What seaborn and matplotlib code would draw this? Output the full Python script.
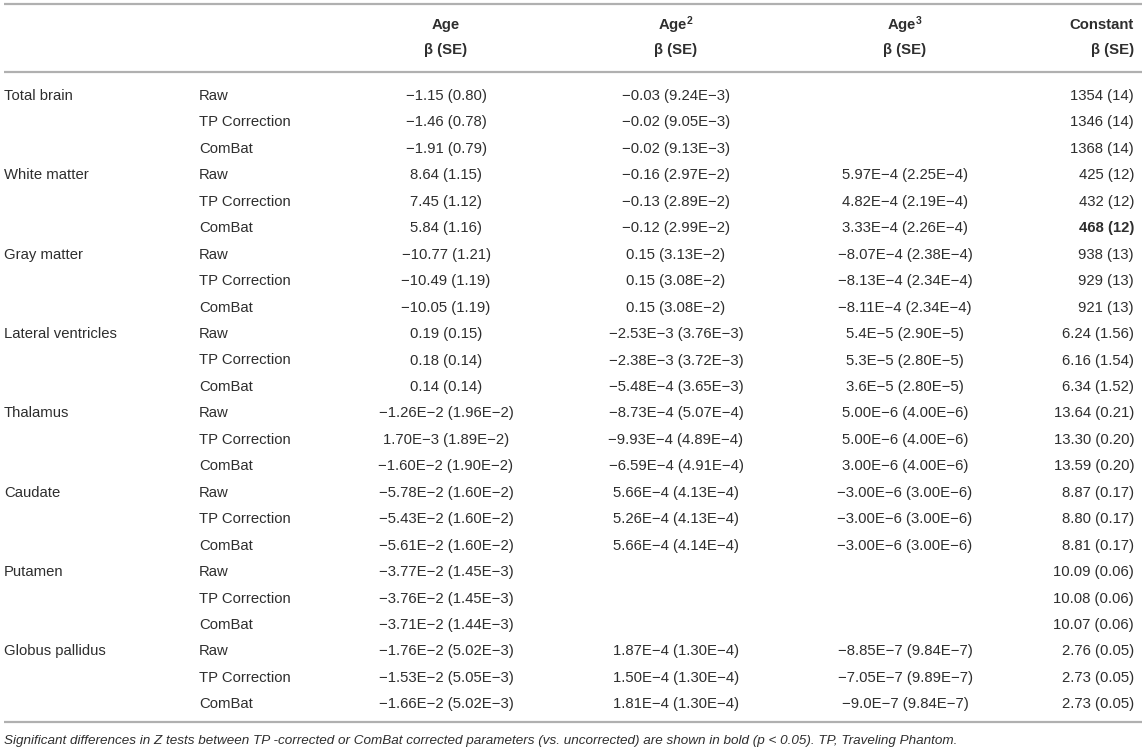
import matplotlib
matplotlib.use("Agg")
import matplotlib.pyplot as plt
import seaborn as sns

sns.set_theme(style="white")
plt.rcParams['font.family'] = ['Liberation Sans', 'DejaVu Sans']
plt.rcParams['mathtext.fontset'] = 'custom'
plt.rcParams['mathtext.rm'] = 'Liberation Sans'
plt.rcParams['mathtext.bf'] = 'Liberation Sans:bold'
plt.rcParams['mathtext.default'] = 'bf'

# ---------------- data ----------------
regions = ["Total brain", "White matter", "Gray matter", "Lateral ventricles",
           "Thalamus", "Caudate", "Putamen", "Globus pallidus"]
methods = ["Raw", "TP Correction", "ComBat"]

col_headers = ["Age", "Age$^{2}$", "Age$^{3}$", "Constant"]
sub_header = "β (SE)"

age = ["−1.15 (0.80)", "−1.46 (0.78)", "−1.91 (0.79)",
       "8.64 (1.15)", "7.45 (1.12)", "5.84 (1.16)",
       "−10.77 (1.21)", "−10.49 (1.19)", "−10.05 (1.19)",
       "0.19 (0.15)", "0.18 (0.14)", "0.14 (0.14)",
       "−1.26E−2 (1.96E−2)", "1.70E−3 (1.89E−2)", "−1.60E−2 (1.90E−2)",
       "−5.78E−2 (1.60E−2)", "−5.43E−2 (1.60E−2)", "−5.61E−2 (1.60E−2)",
       "−3.77E−2 (1.45E−3)", "−3.76E−2 (1.45E−3)", "−3.71E−2 (1.44E−3)",
       "−1.76E−2 (5.02E−3)", "−1.53E−2 (5.05E−3)", "−1.66E−2 (5.02E−3)"]
age2 = ["−0.03 (9.24E−3)", "−0.02 (9.05E−3)", "−0.02 (9.13E−3)",
        "−0.16 (2.97E−2)", "−0.13 (2.89E−2)", "−0.12 (2.99E−2)",
        "0.15 (3.13E−2)", "0.15 (3.08E−2)", "0.15 (3.08E−2)",
        "−2.53E−3 (3.76E−3)", "−2.38E−3 (3.72E−3)", "−5.48E−4 (3.65E−3)",
        "−8.73E−4 (5.07E−4)", "−9.93E−4 (4.89E−4)", "−6.59E−4 (4.91E−4)",
        "5.66E−4 (4.13E−4)", "5.26E−4 (4.13E−4)", "5.66E−4 (4.14E−4)",
        "", "", "",
        "1.87E−4 (1.30E−4)", "1.50E−4 (1.30E−4)", "1.81E−4 (1.30E−4)"]
age3 = ["", "", "",
        "5.97E−4 (2.25E−4)", "4.82E−4 (2.19E−4)", "3.33E−4 (2.26E−4)",
        "−8.07E−4 (2.38E−4)", "−8.13E−4 (2.34E−4)", "−8.11E−4 (2.34E−4)",
        "5.4E−5 (2.90E−5)", "5.3E−5 (2.80E−5)", "3.6E−5 (2.80E−5)",
        "5.00E−6 (4.00E−6)", "5.00E−6 (4.00E−6)", "3.00E−6 (4.00E−6)",
        "−3.00E−6 (3.00E−6)", "−3.00E−6 (3.00E−6)", "−3.00E−6 (3.00E−6)",
        "", "", "",
        "−8.85E−7 (9.84E−7)", "−7.05E−7 (9.89E−7)", "−9.0E−7 (9.84E−7)"]
constant = ["1354 (14)", "1346 (14)", "1368 (14)",
            "425 (12)", "432 (12)", "468 (12)",
            "938 (13)", "929 (13)", "921 (13)",
            "6.24 (1.56)", "6.16 (1.54)", "6.34 (1.52)",
            "13.64 (0.21)", "13.30 (0.20)", "13.59 (0.20)",
            "8.87 (0.17)", "8.80 (0.17)", "8.81 (0.17)",
            "10.09 (0.06)", "10.08 (0.06)", "10.07 (0.06)",
            "2.76 (0.05)", "2.73 (0.05)", "2.73 (0.05)"]
bold_cells = {("constant", 5)}

footnote = ("Significant differences in Z tests between TP -corrected or ComBat corrected "
            "parameters (vs. uncorrected) are shown in bold (p < 0.05). TP, Traveling Phantom.")

# ---------------- layout ----------------
W, H = 1146, 752
fig = plt.figure(figsize=(W / 100, H / 100), dpi=100)
ax = fig.add_axes([0, 0, 1, 1])
ax.set_xlim(0, W)
ax.set_ylim(H, 0)
ax.axis("off")

txt = "#2e2e2e"
rule = "#b0b0b0"
fs = 10.7

x_region, x_method = 4, 199
col_x = [446, 676, 905, 1134]
col_ha = ["center", "center", "center", "right"]
hdr_y1, hdr_y2 = 25, 50
row_y0, row_step = 96, 26.45

for y in (4, 72, 722):
    ax.plot([4, 1142], [y, y], color=rule, lw=1.6, solid_capstyle="butt")

for h, x, ha in zip(col_headers, col_x, col_ha):
    ax.text(x, hdr_y1, h, ha=ha, va="center", fontsize=fs, fontweight="bold", color=txt)
    ax.text(x, hdr_y2, sub_header, ha=ha, va="center", fontsize=fs, fontweight="bold", color=txt)

columns = [("age", age), ("age2", age2), ("age3", age3), ("constant", constant)]
n = len(regions) * len(methods)
for i in range(n):
    y = row_y0 + i * row_step
    if i % 3 == 0:
        ax.text(x_region, y, regions[i // 3], ha="left", va="center", fontsize=fs, color=txt)
    ax.text(x_method, y, methods[i % 3], ha="left", va="center", fontsize=fs, color=txt)
    for (name, vals), x, ha in zip(columns, col_x, col_ha):
        if vals[i]:
            ax.text(x, y, vals[i], ha=ha, va="center", fontsize=fs, color=txt,
                    fontweight="bold" if (name, i) in bold_cells else "normal")

ax.text(x_region, 741, footnote, ha="left", va="center", fontsize=9.7,
        style="italic", color=txt)

fig.savefig("out.png", dpi=100)
